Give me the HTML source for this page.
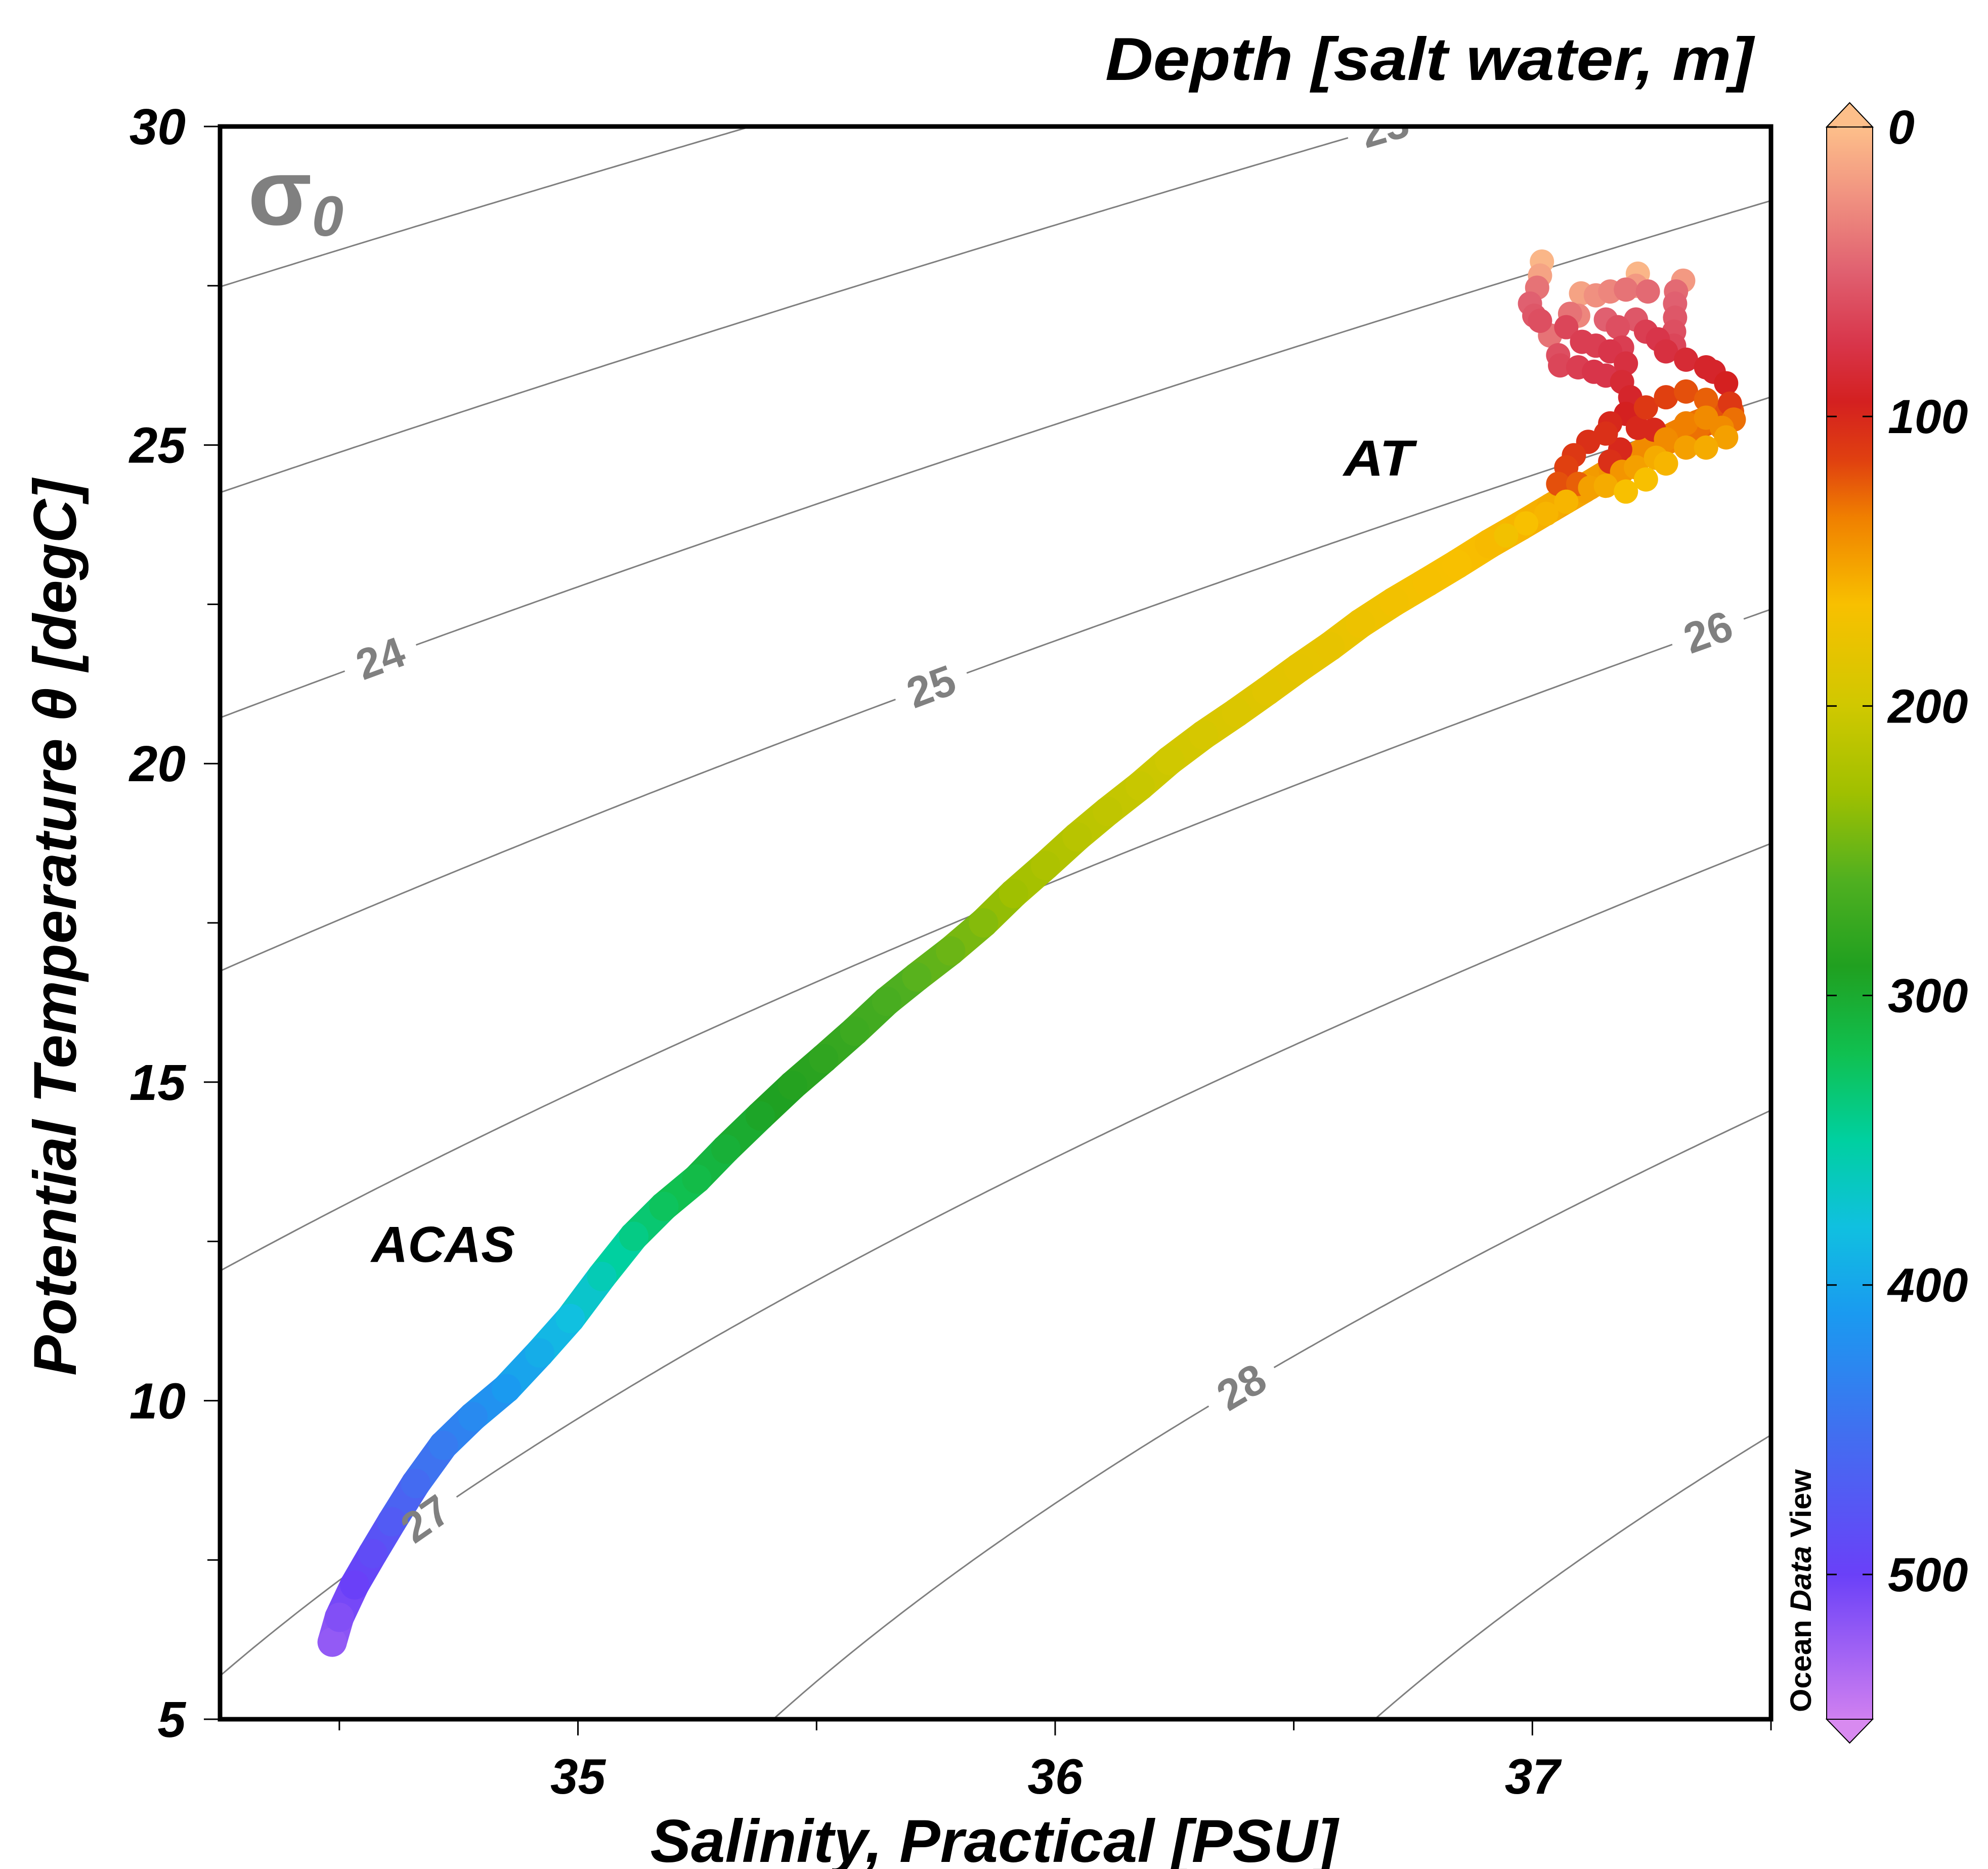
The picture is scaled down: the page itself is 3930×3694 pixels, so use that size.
<!DOCTYPE html>
<html><head><meta charset="utf-8">
<style>
html,body{margin:0;padding:0;background:#fff;overflow:hidden;width:3930px;height:3694px;}
svg{display:block;}
text{font-family:"Liberation Sans",Arial,sans-serif;}
</style></head>
<body>
<svg id="chart" width="3930" height="3694" viewBox="0 0 3930 3694" xmlns="http://www.w3.org/2000/svg" overflow="hidden">
<defs>
<clipPath id="plotclip"><rect x="435" y="250" width="3066" height="3148"/></clipPath>
<linearGradient id="cbgrad" x1="0" y1="0" x2="0" y2="1" gradientUnits="objectBoundingBox"></linearGradient>
</defs>
<g id="contours" clip-path="url(#plotclip)"></g>
<g id="gaps" clip-path="url(#plotclip)"></g>
<g id="data" clip-path="url(#plotclip)"></g>
<g id="clabels" clip-path="url(#plotclip)"></g>
<rect x="435" y="250" width="3066" height="3148" fill="none" stroke="#000" stroke-width="9"/>
<g id="axes"></g>
<text x="490" y="444" font-size="185" font-weight="bold" fill="#808080">σ<tspan font-size="112" font-style="italic" dy="22">0</tspan></text>
<text x="2656" y="940" font-size="100" font-weight="bold" font-style="italic" textLength="138" lengthAdjust="spacingAndGlyphs">AT</text>
<text x="734" y="2494" font-size="100" font-weight="bold" font-style="italic" textLength="284" lengthAdjust="spacingAndGlyphs">ACAS</text>
<text x="1965" y="3680" font-size="120" font-weight="bold" font-style="italic" text-anchor="middle" textLength="1359" lengthAdjust="spacingAndGlyphs">Salinity, Practical [PSU]</text>
<text transform="translate(150,1833) rotate(-90)" x="0" y="0" font-size="120" font-weight="bold" font-style="italic" text-anchor="middle" textLength="1772" lengthAdjust="spacingAndGlyphs">Potential Temperature θ [degC]</text>
<text x="3466" y="158" font-size="120" font-weight="bold" font-style="italic" text-anchor="end" textLength="1281" lengthAdjust="spacingAndGlyphs">Depth [salt water, m]</text>
<text transform="translate(3580,3384) rotate(-90)" x="0" y="0" font-size="58" font-weight="bold" textLength="480" lengthAdjust="spacingAndGlyphs">Ocean <tspan font-style="italic">Data</tspan> View</text>
<g id="colorbar"></g>
</svg>
<script>
// ---- data ----
const mainSal = [34.485,34.50,34.532,34.57,34.61,34.66,34.718,34.78,34.85,34.92,34.984,35.05,35.117,35.18,35.249,35.31,35.382,35.45,35.515,35.58,35.647,35.71,35.781,35.85,35.913,35.98,36.046,36.11,36.178,36.24,36.311,36.38,36.444,36.51,36.576,36.64,36.71,36.78,36.842,36.91,36.975,37.04,37.108,37.17,37.24,37.30,37.346,37.413];
const mainTemp = [6.21,6.6,7.11,7.6,8.1,8.7,9.3,9.75,10.19,10.75,11.29,11.95,12.58,13.05,13.48,13.95,14.47,14.95,15.37,15.8,16.27,16.65,17.06,17.5,17.96,18.4,18.85,19.25,19.65,20.05,20.45,20.8,21.14,21.5,21.84,22.2,22.54,22.85,23.13,23.45,23.73,24.02,24.32,24.6,24.92,25.15,25.32,25.52];
const mainDepth = [520,512,500,488,472,455,440,425,410,395,380,360,340,325,315,305,295,287,280,272,265,257,250,240,230,222,215,210,205,200,195,190,185,182,180,175,170,167,165,162,160,155,150,145,140,135,130,120];
const clusterSal = [37.020,37.016,37.010,36.995,37.004,37.016,37.102,37.133,37.163,37.196,37.221,37.217,37.242,37.316,37.301,37.299,37.299,37.297,37.297,37.037,37.071,37.104,37.054,37.058,37.096,37.129,37.154,37.133,37.163,37.188,37.196,37.179,37.154,37.096,37.079,37.217,37.238,37.263,37.280,37.322,37.364,37.380,37.406,37.188,37.205,37.196,37.163,37.154,37.221,37.255,37.238,37.280,37.322,37.364,37.414,37.422,37.397,37.117,37.184,37.163,37.087,37.071,37.054,37.096,37.406,37.364,37.322,37.280,37.322,37.364,37.259,37.217,37.188,37.154,37.121,37.071,37.029,36.987,36.945,37.280,37.238,37.196];
const clusterTemp = [27.88,27.66,27.47,27.22,27.03,26.95,27.38,27.35,27.41,27.44,27.69,27.50,27.41,27.58,27.41,27.22,27.00,26.78,26.56,26.72,26.85,26.62,26.41,26.25,26.22,26.15,26.09,26.56,26.47,26.53,26.28,26.85,26.97,27.03,27.06,26.97,26.78,26.66,26.47,26.34,26.22,26.15,25.97,25.99,25.75,25.49,25.34,25.18,25.27,25.24,25.59,25.75,25.84,25.71,25.65,25.40,25.27,25.05,24.93,24.74,24.84,24.65,24.39,24.39,25.12,24.96,24.96,25.09,25.34,25.43,24.80,24.65,24.58,24.36,24.33,24.11,23.92,23.77,23.58,24.71,24.46,24.27];
const clusterDepth = [5,15,40,50,55,60,15,25,30,40,5,20,45,20,45,50,55,60,65,40,65,70,60,65,70,75,75,70,75,70,80,60,50,30,40,55,70,75,80,85,90,90,95,85,90,95,100,105,100,100,110,115,120,125,110,130,140,105,100,105,110,115,120,125,150,155,150,140,135,140,155,150,145,155,150,160,160,165,170,160,165,165];
const sigmaLevels = [22,23,24,25,26,27,28,29];
const labelLevels = [23,24,25,26,27,28];
const labelSal = [36.69,34.586,35.74,37.368,34.68,36.39];
const xTicks = [34.5,35,35.5,36,36.5,37,37.5];
const xTickLabels = ["35","36","37"];
const yTicks = [5,7.5,10,12.5,15,17.5,20,22.5,25,27.5,30];
const yTickLabels = ["5","10","15","20","25","30"];
const cbTicks = [0,100,200,300,400,500];
const cbStopDepth = [0,25,50,75,95,115,135,165,200,230,260,290,320,350,380,410,450,500,550];
const cbStopColor = ["#fdbf8a","#f09080","#e06070","#d8354a","#d42020","#e04010","#f08000","#f8c000","#d0c800","#a0c000","#50b020","#20a020","#10c050","#00d0a0","#10c0e0","#1a9af0","#4070f0","#6a40f8","#d080f0"];

// ---- scales ----
const X0=435,X1=3501,Y0=3398,Y1=250;
const sMin=34.25,sMax=37.5,tMin=5,tMax=30;
const xs=s=>X0+(s-sMin)/(sMax-sMin)*(X1-X0);
const ys=t=>Y0-(t-tMin)/(tMax-tMin)*(Y0-Y1);
const CB_TOP=251,CB_BOT=3398,dMax=550;
const cby=d=>CB_TOP+d/dMax*(CB_BOT-CB_TOP);
const NS="http://www.w3.org/2000/svg";
function mk(tag,attrs,parent){const e=document.createElementNS(NS,tag);for(const k in attrs)e.setAttribute(k,attrs[k]);parent.appendChild(e);return e;}
function hex(c){return [parseInt(c.slice(1,3),16),parseInt(c.slice(3,5),16),parseInt(c.slice(5,7),16)];}
function depthColor(d){
  if(d<=cbStopDepth[0])return cbStopColor[0];
  for(let i=1;i<cbStopDepth.length;i++){
    if(d<=cbStopDepth[i]){const f=(d-cbStopDepth[i-1])/(cbStopDepth[i]-cbStopDepth[i-1]);
      const a=hex(cbStopColor[i-1]),b=hex(cbStopColor[i]);
      return "rgb("+a.map((v,j)=>Math.round(v+(b[j]-v)*f)).join(",")+")";}
  }
  return cbStopColor[cbStopColor.length-1];
}
function sigma0(S,T){
  const rw=999.842594+6.793952e-2*T-9.095290e-3*T*T+1.001685e-4*T**3-1.120083e-6*T**4+6.536332e-9*T**5;
  const A=0.824493-4.0899e-3*T+7.6438e-5*T*T-8.2467e-7*T**3+5.3875e-9*T**4;
  const B=-5.72466e-3+1.0227e-4*T-1.6546e-6*T*T;
  return rw+A*S+B*Math.pow(S,1.5)+4.8314e-4*S*S-1000;
}
function tForSigma(S,sig){let lo=-2,hi=40;for(let i=0;i<50;i++){const m=(lo+hi)/2;if(sigma0(S,m)>sig)lo=m;else hi=m;}return (lo+hi)/2;}

const cg=document.getElementById('contours'),gg=document.getElementById('gaps'),lg=document.getElementById('clabels');
sigmaLevels.forEach(lv=>{
  let d="";for(let s=sMin-0.02;s<=sMax+0.02;s+=0.01){const t=tForSigma(s,lv);d+=(d?"L":"M")+xs(s).toFixed(1)+","+ys(t).toFixed(1);}
  const p=mk('path',{d:d,fill:"none",stroke:"#7f7f7f","stroke-width":3},cg);
  
  
});
labelLevels.forEach((lv,i)=>{
  const s=labelSal[i],t=tForSigma(s,lv),x=xs(s),y=ys(t);
  const x2=xs(s+0.01),y2=ys(tForSigma(s+0.01,lv));
  const ang=Math.atan2(y2-y,x2-x)*180/Math.PI;
  mk('rect',{x:-75,y:-42,width:150,height:84,fill:"#fff",transform:`translate(${x},${y}) rotate(${ang})`},gg);
  const tx=mk('text',{x:0,y:30,"text-anchor":"middle","font-size":85,"font-weight":"bold",fill:"#808080",transform:`translate(${x},${y}) rotate(${ang})`},lg);
  tx.textContent=String(lv);
  
  
});

const dg=document.getElementById('data');
for(let i=0;i<mainSal.length-1;i++){
  const l=mk('line',{x1:xs(mainSal[i]),y1:ys(mainTemp[i]),x2:xs(mainSal[i+1]),y2:ys(mainTemp[i+1]),stroke:depthColor((mainDepth[i]+mainDepth[i+1])/2),"stroke-width":58,"stroke-linecap":"round"},dg);
  
  
}
for(let i=0;i<mainSal.length;i++){
  const c=mk('circle',{cx:xs(mainSal[i]),cy:ys(mainTemp[i]),r:29,fill:depthColor(mainDepth[i])},dg);
  
  
}
const order=clusterDepth.map((d,i)=>i).sort((a,b)=>clusterDepth[a]-clusterDepth[b]);
order.forEach(i=>{
  const c=mk('circle',{cx:xs(clusterSal[i]),cy:ys(clusterTemp[i]),r:24,fill:depthColor(clusterDepth[i])},dg);
  
  
});

const ag=document.getElementById('axes');
xTicks.forEach(v=>{const major=Number.isInteger(v);
  const l=mk('line',{x1:xs(v),y1:Y0+4,x2:xs(v),y2:Y0+(major?32:22),stroke:"#000","stroke-width":3},ag);
  
  
});
xTickLabels.forEach(s=>{
  const t=mk('text',{x:xs(+s),y:3545,"text-anchor":"middle","font-size":98,"font-weight":"bold","font-style":"italic"},ag);
  t.textContent=s;
  
  
});
yTicks.forEach(v=>{const major=v%5===0;
  const l=mk('line',{x1:X0-4,y1:ys(v),x2:X0-(major?32:25),y2:ys(v),stroke:"#000","stroke-width":3},ag);
  
  
});
yTickLabels.forEach(s=>{
  const t=mk('text',{x:367,y:ys(+s)+35,"text-anchor":"end","font-size":100,"font-weight":"bold","font-style":"italic"},ag);
  t.textContent=s;
  
  
});

const grad=document.getElementById('cbgrad');
cbStopDepth.forEach((d,i)=>{mk('stop',{offset:(d/dMax),"stop-color":cbStopColor[i]},grad);});
const cb=document.getElementById('colorbar');
const CBX0=3611,CBX1=3702,CBM=(CBX0+CBX1)/2;
mk('rect',{x:CBX0,y:CB_TOP,width:CBX1-CBX0,height:CB_BOT-CB_TOP,fill:"url(#cbgrad)",stroke:"#000","stroke-width":2},cb);
mk('polygon',{points:`${CBX0},${CB_TOP} ${CBM},203 ${CBX1},${CB_TOP}`,fill:cbStopColor[0],stroke:"#000","stroke-width":2},cb);
mk('polygon',{points:`${CBX0},${CB_BOT} ${CBM},3445 ${CBX1},${CB_BOT}`,fill:"#d88af0",stroke:"#000","stroke-width":2},cb);
cbTicks.forEach(v=>{
  mk('line',{x1:CBX0,y1:cby(v),x2:CBX0+20,y2:cby(v),stroke:"#000","stroke-width":3},cb);
  mk('line',{x1:CBX1-20,y1:cby(v),x2:CBX1,y2:cby(v),stroke:"#000","stroke-width":3},cb);
  const t=mk('text',{x:3732,y:cby(v)+33,"font-size":95,"font-weight":"bold","font-style":"italic"},cb);
  t.textContent=String(v);
  
  
});
</script>
</body></html>
